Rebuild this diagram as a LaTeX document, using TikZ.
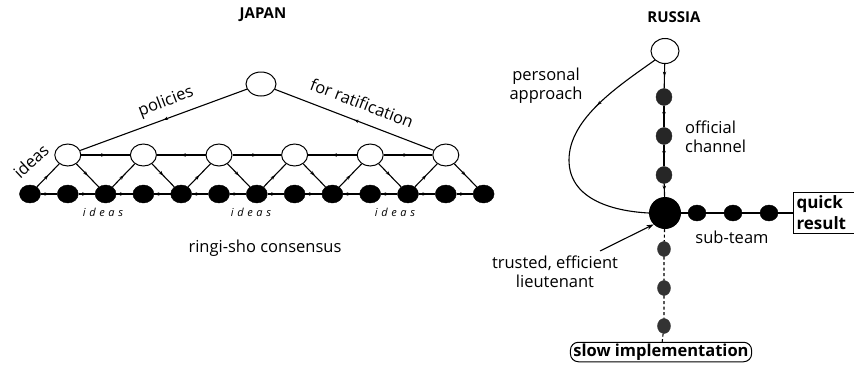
\documentclass[tikz,border=0pt]{standalone}
\usepackage{fontspec}
\setmainfont{Open Sans}
\usetikzlibrary{decorations.markings,arrows.meta,shapes.geometric}
\begin{document}
\begin{tikzpicture}[x=1pt,y=-1pt,
  wnode/.style={draw,line width=1pt,ellipse,fill=white,minimum width=26pt,minimum height=22pt,inner sep=0pt},
  bnode/.style={ellipse,fill=black,draw=black,minimum width=21pt,minimum height=18pt,inner sep=0pt},
  rdot/.style={ellipse,fill=black!85,draw=black!85,minimum width=16pt,minimum height=17pt,inner sep=0pt},
  ddot/.style={ellipse,fill=black!80,draw=black!80,minimum width=13pt,minimum height=15pt,inner sep=0pt},
  sdot/.style={ellipse,fill=black,draw=black,minimum width=18pt,minimum height=16pt,inner sep=0pt},
  link/.style={line width=1.1pt},
  midarr/.style={postaction={decorate},decoration={markings,mark=at position #1 with {\arrow{Stealth[length=4.5pt,width=3.5pt]}}}},
  midarr/.default=0.5,
  lbl/.style={font=\fontsize{16.5}{19}\selectfont,inner sep=1pt},
  title/.style={font=\fontsize{15}{17}\selectfont\bfseries},
  idea/.style={font=\fontsize{11}{13}\selectfont\itshape}
]
\useasboundingbox (0,0) rectangle (854,375);
\clip (0,0) rectangle (854,375);
% ---------------- JAPAN ----------------
\node[title] (jt) at (263,15) {JAPAN};
\node[wnode,minimum width=30pt,minimum height=24pt] (top) at (261,84) {};
\foreach \i in {0,...,12} {\node[bnode] (b\i) at ({30+37.8*\i},194) {};}
\foreach \k in {1,...,6} {\pgfmathtruncatemacro\n{2*\k-1}\node[wnode] (w\k) at ({30+37.8*\n},155) {};}
\foreach \i in {0,...,11} {\pgfmathtruncatemacro\j{\i+1}\draw[link,midarr] (b\i) -- (b\j);}
\foreach \k in {1,...,6} {%
  \pgfmathtruncatemacro\l{2*\k-2}\pgfmathtruncatemacro\r{2*\k}%
  \draw[link,midarr] (b\l) -- (w\k);
  \draw[link,midarr] (w\k) -- (b\r);}
\draw[link,midarr] (w1) -- (w2);
\draw[link,midarr] (w3) -- (w2);
\draw[link,midarr] (w3) -- (w4);
\draw[link,midarr] (w5) -- (w4);
\draw[link,midarr] (w5) -- (w6);
\draw[link,midarr] (top) -- (w1);
\draw[link,midarr] (w6) -- (top);
\node[lbl,rotate=21] (pol) at (166,102) {policies};
\node[lbl,rotate=-21] (rat) at (362,103) {for ratification};
\node[lbl,rotate=43] (idl) at (31,161) {ideas};
\node[idea] (i1) at (103,212) {i\,\,d\,\,e\,\,a\,\,s};
\node[idea] (i2) at (251,212) {i\,\,d\,\,e\,\,a\,\,s};
\node[idea] (i3) at (395,212) {i\,\,d\,\,e\,\,a\,\,s};
\node[lbl] (ring) at (265,248) {ringi-sho consensus};
% ---------------- RUSSIA ----------------
\node[title] (rtit) at (674,17) {RUSSIA};
\node[wnode,minimum width=28pt,minimum height=25pt] (rt) at (665,51) {};
\node[rdot] (r1) at (664,97) {};
\node[rdot] (r2) at (664,136) {};
\node[rdot] (r3) at (664,175) {};
\node[circle,fill=black,minimum size=32pt,inner sep=0pt] (big) at (665,213) {};
\node[sdot] (s1) at (697,213) {};
\node[sdot] (s2) at (733,213) {};
\node[sdot] (s3) at (769,213) {};
\node[draw,line width=1pt,align=left,anchor=west,font=\fontsize{17}{21}\selectfont\bfseries,inner sep=3pt,text width=66pt] (qr) at (793,213) {quick\\result};
\node[ddot] (d1) at (664,249) {};
\node[ddot] (d2) at (664,288) {};
\node[ddot] (d3) at (664,326) {};
\node[draw,line width=1pt,rounded corners=8pt,font=\fontsize{16.5}{19}\selectfont\bfseries,inner xsep=3pt,inner ysep=1.5pt] (slow) at (661,352) {slow implementation};
\draw[link,midarr] (rt) -- (r1);
\draw[link,midarr] (r1) -- (r2);
\draw[link,midarr] (r2) -- (r3);
\draw[link,midarr] (r3) -- (big);
\draw[link] (big) -- (s1) -- (s2) -- (s3) -- (qr);
\draw[link,dash pattern=on 3pt off 2.5pt] (big) -- (d1) -- (d2) -- (d3) -- (slow);
\draw[link,midarr=0.3] (rt.south west) .. controls (620,85) and (569,118) .. (569,160)
   .. controls (569,198) and (610,211) .. (big.west);
\coordinate (lt) at (600,251);
\draw[link,-{Stealth[length=7pt,width=5pt]}] (lt) -- (big.south west);
\node[lbl,align=center] (pa) at (546,86) {personal\\approach};
\node[lbl,align=left,anchor=west] (oc) at (684,137) {official\\channel};
\node[lbl] (st) at (732,237) {sub-team};
\node[lbl,align=center] (tel) at (555,272) {trusted, efficient\\lieutenant};
\end{tikzpicture}
\end{document}
